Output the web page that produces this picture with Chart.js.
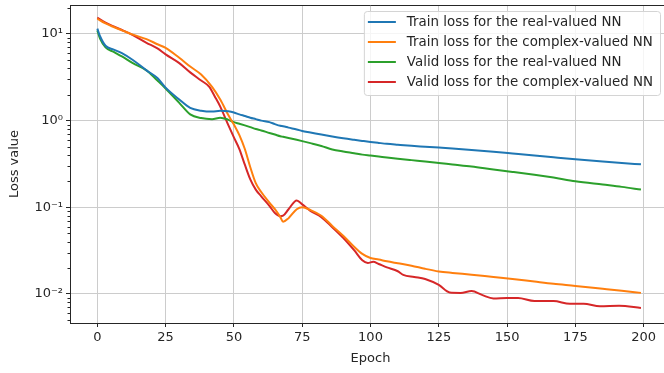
<!DOCTYPE html>
<html>
<head>
<meta charset="utf-8">
<script src="https://cdn.jsdelivr.net/npm/chart.js@4.4.1/dist/chart.umd.min.js"></script>
<style>
  html, body { margin: 0; padding: 0; overflow: hidden; background: #fff; }
  #wrap { width: 664px; height: 373px; overflow: hidden; }
  canvas { display: block; }
</style>
</head>
<body>
<!-- canvas is a little wider than the window: the plot box runs past the right edge, as in the original -->
<div id="wrap"><canvas id="lossChart" width="671" height="373"></canvas></div>
<script>
const epochs = [0, 1, 3, 6, 9, 13, 18, 22, 25, 30, 34, 38, 42, 45, 48, 50, 52, 54, 56, 58, 60, 63, 65, 67, 68, 70, 73, 75, 78, 82, 86, 90, 94, 97, 100, 103, 106, 110, 115, 120, 125, 130, 137, 145, 152, 160, 167, 175, 185, 192, 199];

const trainReal = [11.5, 9.4, 7.3, 6.6, 6.0, 5.0, 3.8, 3.1, 2.4, 1.75, 1.4, 1.3, 1.27, 1.3, 1.28, 1.24, 1.18, 1.13, 1.08, 1.04, 1.0, 0.96, 0.91, 0.87, 0.86, 0.83, 0.79, 0.76, 0.73, 0.69, 0.655, 0.625, 0.6, 0.583, 0.567, 0.553, 0.54, 0.527, 0.512, 0.5, 0.488, 0.476, 0.458, 0.437, 0.418, 0.397, 0.378, 0.358, 0.337, 0.324, 0.313];

const trainComplex = [15, 14.3, 13.2, 12, 11, 9.8, 8.7, 7.6, 6.9, 5.3, 4.2, 3.4, 2.45, 1.75, 1.15, 0.9, 0.68, 0.47, 0.29, 0.19, 0.15, 0.113, 0.095, 0.077, 0.068, 0.075, 0.095, 0.1, 0.093, 0.08, 0.061, 0.047, 0.035, 0.029, 0.026, 0.025, 0.0238, 0.0226, 0.0212, 0.0195, 0.0182, 0.0175, 0.0167, 0.0157, 0.0149, 0.0139, 0.0131, 0.0124, 0.0115, 0.0109, 0.0103];

const validReal = [11, 8.8, 7.0, 6.2, 5.5, 4.6, 3.8, 2.9, 2.35, 1.6, 1.18, 1.07, 1.04, 1.08, 1.02, 0.96, 0.92, 0.88, 0.84, 0.8, 0.77, 0.72, 0.69, 0.66, 0.65, 0.63, 0.6, 0.58, 0.55, 0.51, 0.465, 0.44, 0.42, 0.405, 0.395, 0.385, 0.375, 0.363, 0.35, 0.338, 0.325, 0.312, 0.295, 0.273, 0.256, 0.237, 0.22, 0.2, 0.183, 0.172, 0.16];

// the complex valid curve is bumpier, so it has its own epochs
const validComplexEpochs = [0, 3, 6, 9, 13, 18, 22, 25, 30, 34, 38, 41, 43, 45, 48, 50, 52, 54, 56, 58, 60, 63, 65, 67, 68, 70, 73, 75, 78, 82, 86, 90, 94, 97, 99, 101, 103, 106, 110, 112, 116, 120, 125, 129, 133, 137, 141, 145, 150, 154, 160, 167, 173, 178, 184, 191, 199];
const validComplex = [15.4, 13.5, 12.2, 11.1, 9.7, 7.9, 6.8, 5.8, 4.6, 3.6, 2.9, 2.45, 1.9, 1.45, 0.88, 0.64, 0.47, 0.31, 0.21, 0.16, 0.134, 0.104, 0.086, 0.079, 0.08, 0.095, 0.12, 0.108, 0.091, 0.077, 0.059, 0.0445, 0.032, 0.0245, 0.0228, 0.0235, 0.0222, 0.0203, 0.0183, 0.0166, 0.0157, 0.0149, 0.0127, 0.0104, 0.0103, 0.0108, 0.0097, 0.0089, 0.009, 0.009, 0.0083, 0.0083, 0.0077, 0.0077, 0.0072, 0.0073, 0.0069];

const seriesLabels = [
  'Train loss for the real-valued NN',
  'Train loss for the complex-valued NN',
  'Valid loss for the real-valued NN',
  'Valid loss for the complex-valued NN'
];
const seriesColors = ['#1f77b4', '#ff7f0e', '#2ca02c', '#d62728'];

const xTicks = [0, 25, 50, 75, 100, 125, 150, 175, 200];
const yTicks = [0.01, 0.1, 1, 10];
const yTickLabels = ['10\u207B\u00B2', '10\u207B\u00B9', '10\u2070', '10\u00B9'];

const FONT = 'DejaVu Sans';
const TEXT = '#262626';

function toPoints(xs, ys) {
  return xs.map((x, i) => ({ x: x, y: ys[i] }));
}

// top spine, minor log ticks, legend box
const framePlugin = {
  id: 'frame',
  afterDraw(chart) {
    const ctx = chart.ctx;
    const area = chart.chartArea;
    const y = chart.scales.y;

    ctx.save();
    ctx.strokeStyle = '#262626';
    ctx.lineWidth = 1;
    ctx.beginPath();
    ctx.moveTo(area.left, area.top + 0.5);
    ctx.lineTo(area.right, area.top + 0.5);
    ctx.stroke();

    // minor ticks
    ctx.beginPath();
    for (let d = -3; d <= 1; d++) {
      for (let k = 2; k <= 9; k++) {
        const v = k * Math.pow(10, d);
        if (v < y.min || v > y.max) continue;
        const py = Math.round(y.getPixelForValue(v)) + 0.5;
        ctx.moveTo(area.left - 2.5, py);
        ctx.lineTo(area.left, py);
      }
    }
    ctx.stroke();

    // legend
    ctx.font = '13.4px "' + FONT + '"';
    const sets = chart.data.datasets;
    let maxW = 0;
    sets.forEach(ds => { maxW = Math.max(maxW, ctx.measureText(ds.label).width); });
    const boxRight = 660;
    const boxTop = 11;
    const rowH = 20;
    const boxW = maxW + 50;
    const boxH = sets.length * rowH + 4;
    const boxLeft = boxRight - boxW;

    ctx.fillStyle = 'rgba(255,255,255,0.8)';
    ctx.strokeStyle = '#d4d4d4';
    ctx.beginPath();
    ctx.roundRect(boxLeft + 0.5, boxTop + 0.5, boxW, boxH, 3);
    ctx.fill();
    ctx.stroke();

    sets.forEach((ds, i) => {
      const cy = boxTop + 11 + i * rowH;
      ctx.strokeStyle = ds.borderColor;
      ctx.lineWidth = 2;
      ctx.beginPath();
      ctx.moveTo(boxLeft + 4, cy);
      ctx.lineTo(boxLeft + 32, cy);
      ctx.stroke();
      ctx.fillStyle = TEXT;
      ctx.textBaseline = 'middle';
      ctx.textAlign = 'left';
      ctx.fillText(ds.label, boxLeft + 43, cy + 1);
    });
    ctx.restore();
  }
};

const datasets = [
  toPoints(epochs, trainReal),
  toPoints(epochs, trainComplex),
  toPoints(epochs, validReal),
  toPoints(validComplexEpochs, validComplex)
].map((pts, i) => ({
  label: seriesLabels[i],
  data: pts,
  borderColor: seriesColors[i],
  backgroundColor: seriesColors[i],
  borderWidth: 2,
  pointRadius: 0,
  cubicInterpolationMode: 'monotone',
  fill: false
}));

new Chart(document.getElementById('lossChart').getContext('2d'), {
  type: 'line',
  data: { datasets: datasets },
  options: {
    responsive: false,
    animation: false,
    layout: { padding: { top: 5, right: 0, bottom: 0, left: 0 } },
    plugins: {
      legend: { display: false },
      tooltip: { enabled: false }
    },
    scales: {
      x: {
        type: 'linear',
        min: -10,
        max: 210,
        afterBuildTicks: s => { s.ticks = xTicks.map(v => ({ value: v })); },
        afterFit: s => { s.height = 50; s.paddingLeft = 0; s.paddingRight = 0; },
        grid: { color: '#cccccc', lineWidth: 1, tickLength: 4, tickColor: '#262626' },
        border: { display: true, color: '#262626', width: 1 },
        ticks: { color: TEXT, font: { family: FONT, size: 13 }, padding: 3, maxRotation: 0 },
        title: { display: true, text: 'Epoch', color: TEXT, font: { family: FONT, size: 13 }, padding: { top: 0, bottom: 7 } }
      },
      y: {
        type: 'logarithmic',
        min: 0.004628,
        max: 21.55,
        afterBuildTicks: s => { s.ticks = yTicks.map(v => ({ value: v })); },
        afterFit: s => { s.width = 70; s.paddingTop = 0; s.paddingBottom = 0; },
        grid: { color: '#cccccc', lineWidth: 1, tickLength: 4, tickColor: '#262626' },
        border: { display: true, color: '#262626', width: 1 },
        ticks: {
          color: TEXT,
          font: { family: FONT, size: 13 },
          padding: 3,
          callback: (v, i) => yTickLabels[i]
        },
        title: { display: true, text: 'Loss value', color: TEXT, font: { family: FONT, size: 13 }, padding: { top: 7, bottom: 4 } }
      }
    }
  },
  plugins: [framePlugin]
});
</script>
</body>
</html>
